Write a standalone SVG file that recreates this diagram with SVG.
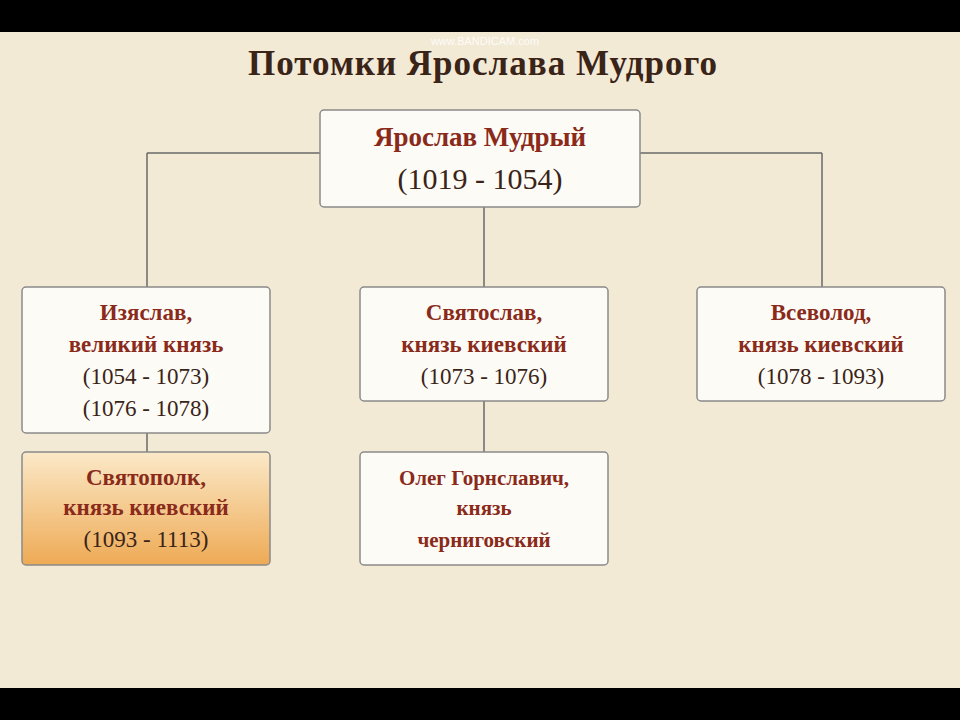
<svg xmlns="http://www.w3.org/2000/svg" width="960" height="720" viewBox="0 0 960 720">
<style>
.box{fill:#fdfbf6;stroke:#8a8a8a;stroke-width:1.5}
.t{font-family:"Liberation Serif",serif;font-size:23px;text-anchor:middle;fill:#3a2418}
.r{fill:#8a2a1a;font-weight:bold}
.c{stroke:#6a6a6a;stroke-width:1.5;fill:none}
</style>
<defs>
<linearGradient id="og" x1="0" y1="0" x2="0" y2="1"><stop offset="0" stop-color="#fbe9c8"/><stop offset="1" stop-color="#eeaa55"/></linearGradient>
</defs>
<rect width="960" height="720" fill="#000"/>
<rect x="0" y="32" width="960" height="656" fill="#f3ead6"/>
<text x="483" y="75" class="t" style="font-size:35px;font-weight:bold;letter-spacing:1px" fill="#3a2418">Потомки Ярослава Мудрого</text>
<text x="485" y="45" style="font-family:'Liberation Sans',sans-serif;font-size:11px;fill:#ffffff;opacity:0.85" text-anchor="middle">www.BANDICAM.com</text>
<g id="connectors">
<path class="c" d="M147 153H822M147 153V287M822 153V287M484 207V287M147 433V452M484 401V452"/>
</g>
<g id="root"><rect class="box" x="320" y="110" width="320" height="97" rx="4"/>
<text class="t r" x="480" y="146" style="font-size:27px">Ярослав Мудрый</text>
<text class="t" x="480" y="189" style="font-size:30px">(1019 - 1054)</text></g>
<g id="izyaslav"><rect class="box" x="22" y="287" width="248" height="146" rx="4"/>
<text class="t r" x="146" y="320">Изяслав,</text>
<text class="t r" x="146" y="352">великий князь</text>
<text class="t" x="146" y="384">(1054 - 1073)</text>
<text class="t" x="146" y="416">(1076 - 1078)</text></g>
<g id="svyatoslav"><rect class="box" x="360" y="287" width="248" height="114" rx="4"/>
<text class="t r" x="484" y="320">Святослав,</text>
<text class="t r" x="484" y="352">князь киевский</text>
<text class="t" x="484" y="384">(1073 - 1076)</text></g>
<g id="vsevolod"><rect class="box" x="697" y="287" width="248" height="114" rx="4"/>
<text class="t r" x="821" y="320">Всеволод,</text>
<text class="t r" x="821" y="352">князь киевский</text>
<text class="t" x="821" y="384">(1078 - 1093)</text></g>
<g id="svyatopolk"><rect x="22" y="452" width="248" height="113" rx="4" fill="url(#og)" stroke="#8a8a8a" stroke-width="1.5"/>
<text class="t r" x="146" y="485">Святополк,</text>
<text class="t r" x="146" y="515">князь киевский</text>
<text class="t" x="146" y="547">(1093 - 1113)</text></g>
<g id="oleg"><rect class="box" x="360" y="452" width="248" height="113" rx="4"/>
<text class="t r" x="484" y="485" style="font-size:21px">Олег Горнславич,</text>
<text class="t r" x="484" y="515" style="font-size:21px">князь</text>
<text class="t r" x="484" y="547" style="font-size:21px">черниговский</text></g>
</svg>
